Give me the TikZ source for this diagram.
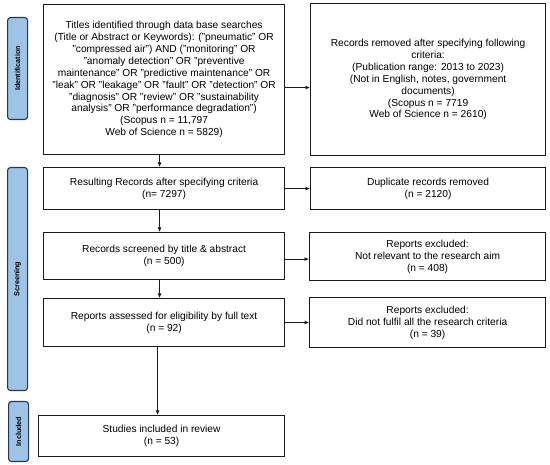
\documentclass[tikz,border=0pt]{standalone}
\usepackage{fontspec}
\setmainfont{Liberation Sans}
\usetikzlibrary{arrows.meta}
\definecolor{tabfill}{HTML}{9DC3E6}
\definecolor{tabdraw}{HTML}{2A3550}
\definecolor{boxdraw}{HTML}{1A1A1A}
\tikzset{
  box/.style={draw=boxdraw, line width=1.2pt, fill=white, anchor=north west, inner sep=0pt, align=center,
    font=\fontsize{10.2}{11.9}\selectfont},
  tab/.style={draw=tabdraw, line width=1.1pt, fill=tabfill, rounded corners=3pt, anchor=north west, inner sep=0pt},
  tablabel/.style={rotate=90, font=\bfseries\fontsize{7.2}{8}\selectfont},
  arr/.style={draw=boxdraw, line width=0.8pt, -{Latex[length=4.5pt,width=4pt]}}
}
\begin{document}
\begin{tikzpicture}[x=1pt,y=-1pt]
\useasboundingbox (0,0) rectangle (550,465);
% phase tabs
\node[tab, minimum width=20pt, minimum height=102pt] (tid) at (7,17) {};
\node[tablabel] (tidl) at (tid.center) {Identification};
\node[tab, minimum width=20pt, minimum height=223pt] (tsc) at (7,167) {};
\node[tablabel] (tscl) at (tsc.center) {Screening};
\node[tab, minimum width=20pt, minimum height=60pt] (tin) at (8,401) {};
\node[tablabel] (tinl) at (tin.center) {Included};
% left column
\node[box, minimum width=241pt, minimum height=150pt] (b1) at (43,4) {Titles identified through data base searches\\(Title or Abstract or Keywords): ("pneumatic" OR\\"compressed air") AND ("monitoring" OR\\"anomaly detection" OR "preventive\\maintenance" OR "predictive maintenance" OR\\"leak" OR "leakage" OR "fault" OR "detection" OR\\"diagnosis" OR "review" OR "sustainability\\analysis" OR "performance degradation")\\(Scopus n = 11,797\\Web of Science n = 5829)};
\node[box, minimum width=241pt, minimum height=42pt] (b2) at (43,167) {Resulting Records after specifying criteria\\(n= 7297)};
\node[box, minimum width=241pt, minimum height=47pt] (b3) at (43,232) {Records screened by title \& abstract\\(n = 500)};
\node[box, minimum width=241pt, minimum height=48pt] (b4) at (43,298) {Reports assessed for eligibility by full text\\(n = 92)};
\node[box, minimum width=246pt, minimum height=41pt] (b5) at (38,415) {Studies included in review\\(n = 53)};
% right column
\node[box, minimum width=235pt, minimum height=152pt] (r1) at (310,3) {Records removed after specifying following\\criteria:\\(Publication range: 2013 to 2023)\\(Not in English, notes, government\\documents)\\(Scopus n = 7719\\Web of Science n = 2610)};
\node[box, minimum width=235pt, minimum height=42pt] (r2) at (310,167) {Duplicate records removed\\(n = 2120)};
\node[box, minimum width=236pt, minimum height=48pt] (r3) at (309,232) {Reports excluded:\\Not relevant to the research aim\\(n = 408)};
\node[box, minimum width=236pt, minimum height=50pt] (r4) at (309,297) {Reports excluded:\\Did not fulfil all the research criteria\\(n = 39)};
% connectors
\coordinate (c1) at ([yshift=-8pt]b1.east);
\draw[arr] (c1) -- (c1 -| r1.west);
\draw[arr] (b2.east) -- (b2.east -| r2.west);
\coordinate (c3) at ([yshift=-3pt]b3.east);
\draw[arr] (c3) -- (c3 -| r3.west);
\draw[arr] (b4.east) -- (b4.east -| r4.west);
\coordinate (d1) at ([xshift=-4.5pt]b1.south);
\draw[arr] (d1) -- (d1 |- b2.north);
\draw[arr] (d1 |- b2.south) -- (d1 |- b3.north);
\draw[arr] (d1 |- b3.south) -- (d1 |- b4.north);
\coordinate (d4) at ([xshift=-6.5pt]b4.south);
\draw[arr] (d4) -- (d4 |- b5.north);
\end{tikzpicture}
\end{document}
